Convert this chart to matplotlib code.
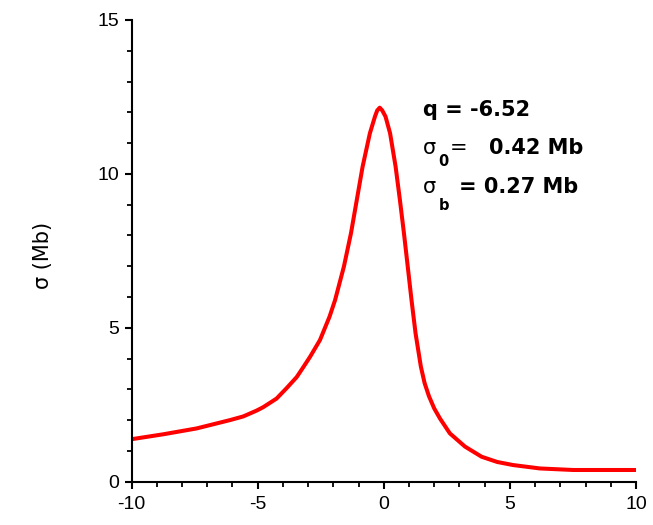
import matplotlib
matplotlib.use("Agg")
import matplotlib.pyplot as plt
from matplotlib.ticker import MultipleLocator

plt.rcParams['font.family'] = ['Liberation Sans', 'DejaVu Sans']
plt.rcParams['axes.unicode_minus'] = False

# reduced energy vs cross section (Mb)
eps = [-10.0, -8.74, -7.42, -6.10, -5.57, -5.04, -4.78, -4.25, -3.85, -3.45,
       -3.19, -2.92, -2.53, -2.42, -2.15, -1.93, -1.58, -1.30, -1.07, -0.84,
       -0.55, -0.35, -0.26, -0.16, -0.06, 0.07, 0.25, 0.47, 0.64, 0.80,
       0.95, 1.10, 1.26, 1.47, 1.62, 1.79, 2.00, 2.23, 2.62, 3.22, 3.88,
       4.50, 5.13, 6.19, 7.51, 8.80, 10.0]
sigma = [1.38, 1.54, 1.73, 2.00, 2.12, 2.31, 2.42, 2.70, 3.04, 3.40,
         3.72, 4.06, 4.60, 4.82, 5.36, 5.90, 6.99, 8.07, 9.15, 10.23,
         11.32, 11.86, 12.06, 12.15, 12.06, 11.86, 11.32, 10.23, 9.15, 8.07,
         6.99, 5.90, 4.82, 3.74, 3.20, 2.78, 2.38, 2.05, 1.57, 1.14, 0.81,
         0.64, 0.54, 0.43, 0.38, 0.38, 0.38]

fig = plt.figure(figsize=(6.53, 5.25), dpi=100)
ax = fig.add_axes([0.2014, 0.0825, 0.7726, 0.8795])

ax.plot(eps, sigma, color='#ff0000', lw=2.9, solid_joinstyle='round')

ax.set_xlim(-10, 10)
ax.set_ylim(0, 15)
ax.xaxis.set_major_locator(MultipleLocator(5))
ax.xaxis.set_minor_locator(MultipleLocator(1))
ax.yaxis.set_major_locator(MultipleLocator(5))
ax.yaxis.set_minor_locator(MultipleLocator(1))

for s in ['top', 'right']:
    ax.spines[s].set_visible(False)
for s in ['left', 'bottom']:
    ax.spines[s].set_linewidth(1.5)

ax.tick_params(which='major', direction='out', length=5, width=1.5,
               labelsize=14, colors='black', pad=4)
ax.tick_params(which='minor', direction='out', length=3.5, width=1.3)
ax.tick_params(axis='x', which='major', pad=5)

ax.set_ylabel('σ (Mb)', fontsize=15, family='DejaVu Sans')
ax.yaxis.set_label_coords(-0.155, 0.489)

# fit parameters
def fx(px):
    return (px - 131.5) / 504.5

def fy(py):
    return (481.7 - py) / 461.7

kw = dict(transform=ax.transAxes, va='baseline', family='DejaVu Sans')
ax.text(fx(423), fy(116), 'q = -6.52', fontsize=15, fontweight='bold', **kw)
ax.text(fx(423), fy(154), 'σ', fontsize=15, **kw)
ax.text(fx(438), fy(166), '0', fontsize=10.5, fontweight='bold', **kw)
ax.text(fx(450), fy(154), '=', fontsize=15, **kw)
ax.text(fx(489), fy(154), '0.42 Mb', fontsize=15, fontweight='bold', **kw)
ax.text(fx(423), fy(193), 'σ', fontsize=15, **kw)
ax.text(fx(439), fy(210), 'b', fontsize=10.5, fontweight='bold', **kw)
ax.text(fx(459), fy(193), '= 0.27 Mb', fontsize=15, fontweight='bold', **kw)

fig.savefig('out.png', dpi=100)
